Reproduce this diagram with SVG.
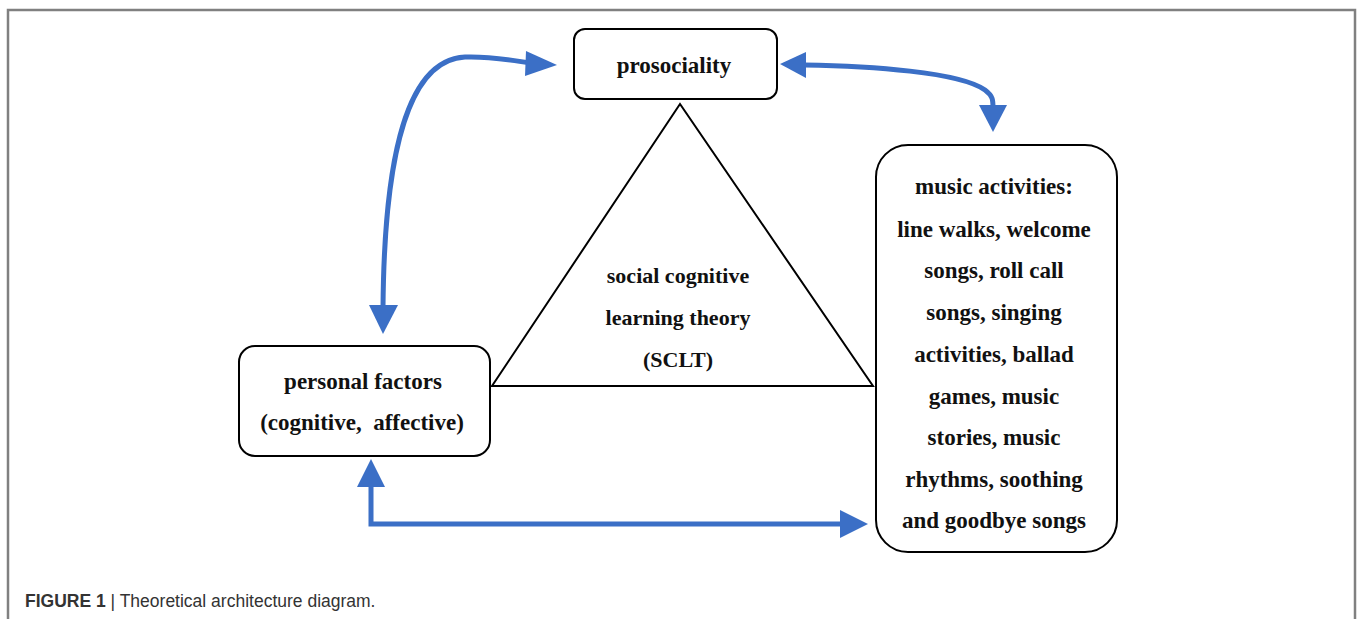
<svg xmlns="http://www.w3.org/2000/svg" width="1357" height="619" viewBox="0 0 1357 619">
<defs>
<style>
.box{fill:#fff;stroke:#000;stroke-width:2}
.t{font-family:"Liberation Serif",serif;font-weight:bold;font-size:23px;fill:#111;text-anchor:middle}
.conn{fill:none;stroke:#3b6fc6;stroke-width:5}
.head{fill:#3b6fc6}
.frame{fill:none;stroke:#808080;stroke-width:2.5}
</style>
</defs>
<rect width="1357" height="619" fill="#fff"/>
<path class="frame" d="M8,619 V10 H1355 V619"/>
<g id="triangle">
<polygon points="680,104 492,386 873,386" fill="none" stroke="#000" stroke-width="2"/>
<text class="t" x="678" y="283" style="font-size:22px">social cognitive</text>
<text class="t" x="678" y="325" style="font-size:22px">learning theory</text>
<text class="t" x="678" y="367" style="font-size:22px">(SCLT)</text>
</g>
<g id="prosociality">
<rect class="box" x="574" y="29" width="203" height="70" rx="11"/>
<text class="t" x="674" y="73">prosociality</text>
</g>
<g id="personal">
<rect class="box" x="239" y="346" width="251" height="110" rx="16"/>
<text class="t" x="363" y="389">personal factors</text>
<text class="t" x="362" y="430" xml:space="preserve">(cognitive,  affective)</text>
</g>
<g id="music">
<rect class="box" x="876" y="145" width="241" height="407" rx="32"/>
<text class="t" x="994" y="194">music activities:</text>
<text class="t" x="994" y="237">line walks, welcome</text>
<text class="t" x="994" y="278">songs, roll call</text>
<text class="t" x="994" y="320">songs, singing</text>
<text class="t" x="994" y="362">activities, ballad</text>
<text class="t" x="994" y="404">games, music</text>
<text class="t" x="994" y="445">stories, music</text>
<text class="t" x="994" y="487">rhythms, soothing</text>
<text class="t" x="994" y="528">and goodbye songs</text>
</g>
<g id="connectors">
<path class="conn" d="M383,308 C384,180 400,60 465,57 C490,56 510,60 530,63"/>
<polygon class="head" points="369,305 398,305 383,334"/>
<polygon class="head" points="526,51 557,65 525,76"/>
<path class="conn" d="M804,65 C870,66 960,72 985,90 C993,96 993,100 993,108"/>
<polygon class="head" points="780,64 806,52 806,78"/>
<polygon class="head" points="979,105 1007,105 993,132"/>
<path class="conn" d="M371,485 V524 H842"/>
<polygon class="head" points="371,459 357,487 385,487"/>
<polygon class="head" points="840,510 868,524 840,538"/>
</g>
<text x="25" y="607" font-family="'Liberation Sans',Arial,sans-serif" font-size="17.5" fill="#333"><tspan font-weight="bold">FIGURE 1</tspan> | Theoretical architecture diagram.</text>
</svg>
